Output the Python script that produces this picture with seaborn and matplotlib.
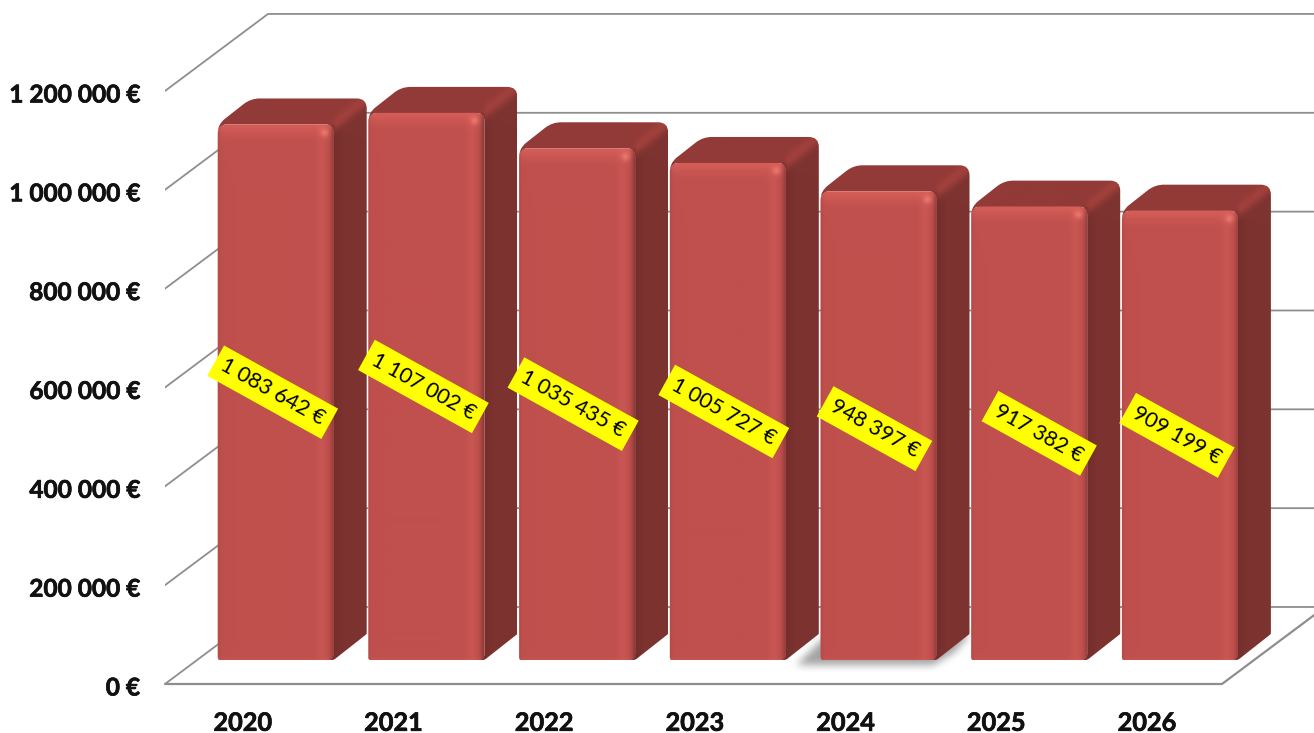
import numpy as np
import pandas as pd
import matplotlib
matplotlib.use("Agg")
import matplotlib.pyplot as plt
import matplotlib.patheffects as pe
from matplotlib.colors import to_rgb
from matplotlib.path import Path
from matplotlib.patches import PathPatch
from matplotlib.transforms import ScaledTranslation
import seaborn as sns

years = ["2020", "2021", "2022", "2023", "2024", "2025", "2026"]
values = [1083642, 1107002, 1035435, 1005727, 948397, 917382, 909199]
value_labels = ["1 083 642 €", "1 107 002 €", "1 035 435 €", "1 005 727 €",
                "948 397 €", "917 382 €", "909 199 €"]
tick_values = [0, 200000, 400000, 600000, 800000, 1000000, 1200000]
tick_labels = ["0 €", "200 000 €", "400 000 €", "600 000 €", "800 000 €",
               "1 000 000 €", "1 200 000 €"]
# small nudges of each rotated label away from its bar centre, in pixels
label_nudge = [(-3, 0), (-3, 0), (-4, 0), (-4, 0), (-4, -3), (10, 0), (-3, 0)]

FRONT = "#C0504D"
FRONT_LIGHT = "#E2665F"
SIDE = "#7D3330"
TOP = "#923A37"
RIDGE = "#A8433E"
GRID = "#8E8E8E"

W, H = 1314, 733
LEFT, FLOOR = 165, 684
SLOT_PX = 150.7
FIRST_CENTRE_PX = 275.7
PX_PER_VALUE = 494.2e-6
BAR_WIDTH = 116 / SLOT_PX

x_px = 1 / SLOT_PX          # one pixel in category units
v_px = 1 / PX_PER_VALUE     # one pixel in euro units

sns.set_theme(style="white")
plt.rcParams["font.family"] = ["Lato", "DejaVu Sans"]

df = pd.DataFrame({"year": years, "amount": values})

fig = plt.figure(figsize=(W / 100, H / 100), dpi=100, facecolor="white")
ax = fig.add_axes([LEFT / W, (H - FLOOR) / H, (W - LEFT) / W, FLOOR / H])
sns.barplot(data=df, x="year", y="amount", color=FRONT, saturation=1,
            width=BAR_WIDTH, ax=ax, zorder=3)

xlim = ((LEFT - FIRST_CENTRE_PX) * x_px, (W - FIRST_CENTRE_PX) * x_px)
ylim = (0, FLOOR * v_px)


def rounded(points, radii):
    """Closed path through points with the corners cut by quadratic curves (radii in pixels)."""
    pts = np.array([(p[0] / x_px, p[1] / v_px) for p in points], dtype=float)
    n = len(pts)
    verts, codes = [], []
    for i in range(n):
        p, prev, nxt = pts[i], pts[i - 1], pts[(i + 1) % n]
        r = radii[i]
        a = p + (prev - p) / np.linalg.norm(prev - p) * r
        b = p + (nxt - p) / np.linalg.norm(nxt - p) * r
        verts += [a, p, b]
        codes += [Path.MOVETO if i == 0 else Path.LINETO, Path.CURVE3, Path.CURVE3]
    verts.append(verts[0])
    codes.append(Path.CLOSEPOLY)
    verts = np.array(verts) * (x_px, v_px)
    return Path(verts, codes)


def blend(img, colour, amount):
    c = np.array(to_rgb(colour))
    return img * (1 - amount[..., None]) + c * amount[..., None]


def front_shading(w, h):
    yy, xx = np.mgrid[0:h, 0:w].astype(float)
    img = np.ones((h, w, 3)) * np.array(to_rgb(FRONT))
    img = blend(img, FRONT_LIGHT, 0.6 * np.exp(-(yy / 11) ** 2))
    img = blend(img, FRONT_LIGHT, 0.24 * np.exp(-((w - 14 - xx) / 5) ** 2))
    img = blend(img, FRONT_LIGHT, 0.28 * np.exp(-((h - yy) / 3) ** 2))
    img = blend(img, "#A84440", 0.45 * np.exp(-(xx / 3) ** 2))
    img = blend(img, SIDE, 0.85 * np.exp(-((w - xx) / 4.5) ** 2))
    spot = np.exp(-(((xx - (w - 11)) ** 2 + (yy - 9) ** 2) / 16))
    img = blend(img, "#EE7A72", 0.85 * spot)
    return np.clip(img, 0, 1)


def body_shading(w, h, dx, dy):
    """Top and side faces, split along the diagonal running back from the front corner."""
    full_w, full_h = w + dx, h + dy
    yy, xx = np.mgrid[0:full_h, 0:full_w].astype(float)
    s = ((xx - w) * dy + (yy - dy) * dx) / np.hypot(dx, dy)
    side_part = np.clip(s / 5 + 0.5, 0, 1)
    img = np.ones((full_h, full_w, 3)) * np.array(to_rgb(TOP))
    img = blend(img, SIDE, side_part)
    img = blend(img, "#6C2A28", 0.5 * np.exp(-(np.clip(xx - w, 0, None) / 6) ** 2) * (yy > dy))
    img = blend(img, RIDGE, 0.75 * np.exp(-(s / 6) ** 2) * np.clip((xx - w + 4) / 6, 0, 1))
    return np.clip(img, 0, 1)


def soft_shadow(path_px, size, blur=7):
    """Blurred alpha mask of a polygon given in pixels inside a grid of the given size."""
    w, h = size
    yy, xx = np.mgrid[0:h, 0:w]
    inside = Path(path_px).contains_points(np.c_[xx.ravel() + 0.5, yy.ravel() + 0.5])
    mask = inside.reshape(h, w).astype(float)
    kernel = np.ones(blur) / blur
    for _ in range(2):
        mask = np.apply_along_axis(np.convolve, 0, mask, kernel, mode="same")
        mask = np.apply_along_axis(np.convolve, 1, mask, kernel, mode="same")
    return mask


# depth of the chart box and of the bars, in pixels
BOX_DX, BOX_DY = 103, 77
BAR_DX, BAR_DY = 33, 26
GAP_PX = 24

# walls and floor of the box
front_right = xlim[0] + 1057 * x_px
for v in tick_values:
    ax.plot([xlim[0], xlim[0] + BOX_DX * x_px, xlim[1] + 20 * x_px],
            [v, v + BOX_DY * v_px, v + BOX_DY * v_px],
            color=GRID, lw=1.3, zorder=1, clip_on=True)
ax.plot([xlim[0], front_right, front_right + BOX_DX * x_px],
        [0, 0, BOX_DY * v_px], color=GRID, lw=1.6, zorder=1, clip_on=False)

# the 3D bodies are built on the rectangles that the bar plot created
container = ax.containers[0]
for i, (bar, value) in enumerate(zip(container, values)):
    bar.set_y(GAP_PX * v_px)
    x0, x1 = bar.get_x(), bar.get_x() + bar.get_width()
    y0, y1 = bar.get_y(), bar.get_y() + bar.get_height()
    w_px = int(round((x1 - x0) / x_px))
    h_px = int(round((y1 - y0) / v_px))
    z = 3 + i * 0.1

    if years[i] == "2024":
        # soft shadow that lies on the floor around this one bar
        sx = 40
        size = (w_px + BAR_DX + sx + 20, 70)
        base = 42
        outline = [(sx - 24, base + 5), (sx + w_px - 4, base + 5),
                   (sx + w_px + 18, base - 8), (sx + w_px + BAR_DX, base - BAR_DY),
                   (sx + 4, base - BAR_DY + 2)]
        alpha = soft_shadow(outline, size, blur=9)
        rgba = np.zeros((size[1], size[0], 4))
        rgba[..., :3] = 0.35
        rgba[..., 3] = np.clip(alpha * 0.55, 0, 1)
        ax.imshow(rgba, aspect="auto", zorder=2, interpolation="bilinear",
                  extent=(x0 - sx * x_px, x0 + (size[0] - sx) * x_px,
                          y0 - (size[1] - base) * v_px, y0 + base * v_px))

    body = rounded([(x0, y1), (x0 + BAR_DX * x_px, y1 + BAR_DY * v_px),
                    (x1 + BAR_DX * x_px, y1 + BAR_DY * v_px),
                    (x1 + BAR_DX * x_px, y0 + BAR_DY * v_px), (x1, y0), (x0, y0)],
                   [9, 9, 10, 1, 2, 2])
    body_patch = PathPatch(body, transform=ax.transData, fc="none", ec="none")
    ax.add_patch(body_patch)
    body_img = ax.imshow(body_shading(w_px, h_px, BAR_DX, BAR_DY), aspect="auto",
                         zorder=z, interpolation="bilinear",
                         extent=(x0, x1 + BAR_DX * x_px, y0, y1 + BAR_DY * v_px))
    body_img.set_clip_path(body_patch)

    face = rounded([(x0, y0), (x0, y1), (x1, y1), (x1, y0)], [3, 9, 8, 6])
    face_patch = PathPatch(face, transform=ax.transData, fc="none", ec="none")
    ax.add_patch(face_patch)
    bar.set_zorder(z + 0.01)
    bar.set_clip_path(face_patch)
    # the shading overshoots the face by a pixel so that only the clip sets its edge
    face_img = ax.imshow(front_shading(w_px + 2, h_px + 2), aspect="auto", zorder=z + 0.02,
                         interpolation="bilinear",
                         extent=(x0 - x_px, x1 + x_px, y0 - v_px, y1 + v_px))
    face_img.set_clip_path(face_patch)

    # value tag on a yellow strip through the middle of the bar
    ax.annotate(value_labels[i], xy=((x0 + x1) / 2, y0 + value / 2),
                xytext=label_nudge[i], textcoords="offset pixels",
                rotation=-29, rotation_mode="anchor", ha="center", va="center",
                fontsize=15.5, color="black", zorder=20,
                bbox=dict(boxstyle="square,pad=0.34", fc="#FFFF00", ec="none"))

ax.set_xlim(*xlim)
ax.set_ylim(*ylim)
ax.set_xlabel("")
ax.set_ylabel("")
ax.set_xticks([i - BAR_DX * x_px for i in range(len(years))], labels=years)
ax.set_yticks(tick_values, labels=tick_labels)
ax.tick_params(axis="x", length=0, pad=20)
ax.tick_params(axis="y", length=0, pad=18)
heavier = [pe.withStroke(linewidth=0.5, foreground="#111111")]
nudge_down = ScaledTranslation(0, -2 / 100, fig.dpi_scale_trans)
for lab in ax.get_yticklabels():
    lab.set_fontweight("bold")
    lab.set_fontsize(17.6)
    lab.set_color("#111111")
    lab.set_path_effects(heavier)
    lab.set_transform(lab.get_transform() + nudge_down)
for lab in ax.get_xticklabels():
    lab.set_fontweight("bold")
    lab.set_fontsize(18.2)
    lab.set_color("#111111")
    lab.set_path_effects(heavier)
sns.despine(ax=ax, left=True, bottom=True)
ax.patch.set_alpha(0)
ax.grid(False)

fig.savefig("out.png", dpi=100, facecolor="white")
